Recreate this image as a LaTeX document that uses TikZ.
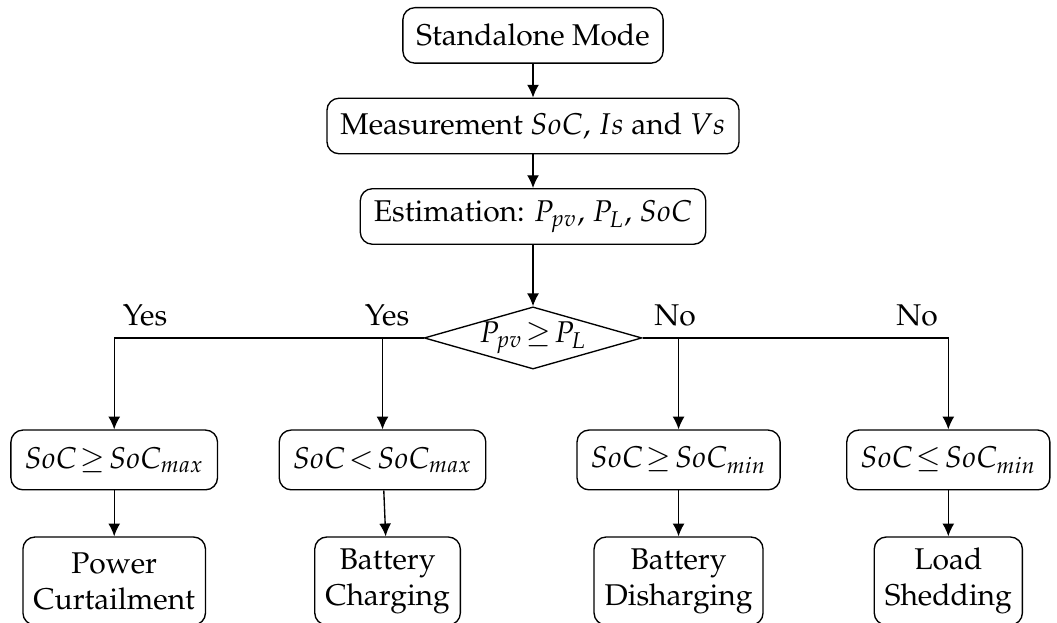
\documentclass[tikz,border=0pt]{standalone}
\usepackage[T1]{fontenc}
\usepackage{mathpazo}
\usepackage{amssymb}
\usepackage{tikz}
\usetikzlibrary{shapes.geometric,arrows.meta,positioning}
\tikzset{
  stage/.style={rectangle,rounded corners=4pt,draw=black,line width=0.45pt,
                minimum height=0.65cm,inner xsep=4.5pt,align=center,text=black},
  cond/.style={stage,minimum width=2.34cm,minimum height=0.7cm},
  act/.style={stage,minimum height=1.03cm,inner xsep=3.5pt},
  dec/.style={diamond,draw=black,line width=0.45pt,aspect=3.5,inner sep=0pt,
              minimum width=2.42cm,minimum height=0.69cm,align=center},
  flow/.style={-{Latex[length=1.5mm,width=1.4mm]},line width=0.45pt,draw=black},
}
\AtBeginDocument{\thickmuskip=2mu plus 1mu}

\begin{document}
\begin{tikzpicture}[lbl/.style={inner sep=0pt,font=\normalsize}]
  \useasboundingbox (-6.244,-3.339) rectangle (6.138,3.959);
  \node[stage] (mode) at (0,3.544)  {Standalone Mode};
  \node[stage] (meas) at (0,2.483)  {Measurement $SoC$, $Is$ and $Vs$};
  \node[stage] (est)  at (0,1.423)  {Estimation: $P_{pv}$, $P_L$, $SoC$};
  \node[dec]   (chk)  at (0,0)      {$P_{pv}\geq P_L$};
  % conditions
  \node[cond] (c1) at (-4.906,-1.429) {$SoC\geq SoC_{max}$};
  \node[cond] (c2) at (-1.763,-1.429) {$SoC<SoC_{max}$};
  \node[cond] (c3) at (1.705,-1.429)  {$SoC\geq SoC_{min}$};
  \node[cond] (c4) at (4.865,-1.429)  {$SoC\leq SoC_{min}$};
  % actions
  \node[act] (r1) at (-4.906,-2.847) {Power\\Curtailment};
  \node[act] (r2) at (-1.704,-2.847) {Battery\\Charging};
  \node[act] (r3) at (1.705,-2.847)  {Battery\\Disharging};
  \node[act] (r4) at (4.865,-2.847)  {Load\\Shedding};
  % branch labels
  \node[lbl] (y1) at (-4.545,0.269) {Yes};
  \node[lbl] (y2) at (-1.710,0.269) {Yes};
  \node[lbl] (n1) at (1.663,0.269)  {No};
  \node[lbl] (n2) at (4.498,0.269)  {No};
  \draw[flow] (mode) -- (meas);
  \draw[flow] (meas) -- (est);
  \draw[flow] (est) -- (chk);
  \draw[flow] (chk.west) -| (c1.north);
  \draw[flow] (c2.north |- chk.west) -- (c2.north);
  \draw[flow] (chk.east) -| (c4.north);
  \draw[flow] (c3.north |- chk.east) -- (c3.north);
  \draw[flow] (c1) -- (r1);
  \draw[flow] (c2) -- (r2);
  \draw[flow] (c3) -- (r3);
  \draw[flow] (c4) -- (r4);
\end{tikzpicture}
\end{document}
